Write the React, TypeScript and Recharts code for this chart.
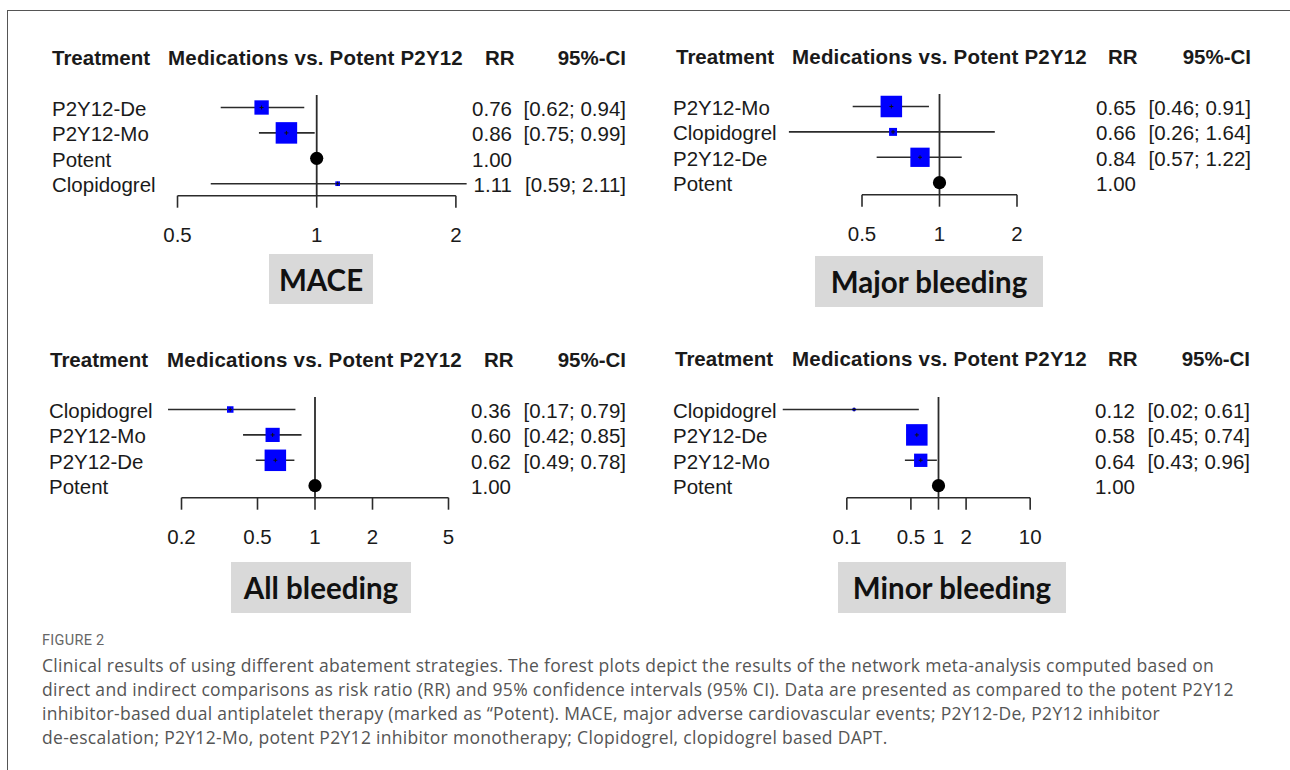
import React from 'react';
import { ScatterChart, Scatter, XAxis, YAxis, ErrorBar, ReferenceLine } from 'recharts';

// MACE
const maceNames = ['P2Y12-De', 'P2Y12-Mo', 'Potent', 'Clopidogrel'];
const maceRR = [0.76, 0.86, 1.0, 1.11];
const maceLow = [0.62, 0.75, null, 0.59];
const maceHigh = [0.94, 0.99, null, 2.11];
const maceTicks = [0.5, 1, 2];

// Major bleeding
const majorNames = ['P2Y12-Mo', 'Clopidogrel', 'P2Y12-De', 'Potent'];
const majorRR = [0.65, 0.66, 0.84, 1.0];
const majorLow = [0.46, 0.26, 0.57, null];
const majorHigh = [0.91, 1.64, 1.22, null];
const majorTicks = [0.5, 1, 2];

// All bleeding
const allNames = ['Clopidogrel', 'P2Y12-Mo', 'P2Y12-De', 'Potent'];
const allRR = [0.36, 0.6, 0.62, 1.0];
const allLow = [0.17, 0.42, 0.49, null];
const allHigh = [0.79, 0.85, 0.78, null];
const allTicks = [0.2, 0.5, 1, 2, 5];

// Minor bleeding
const minorNames = ['Clopidogrel', 'P2Y12-De', 'P2Y12-Mo', 'Potent'];
const minorRR = [0.12, 0.58, 0.64, 1.0];
const minorLow = [0.02, 0.45, 0.43, null];
const minorHigh = [0.61, 0.74, 0.96, null];
const minorTicks = [0.1, 0.5, 1, 2, 10];

const headerCols = ['Treatment', 'Medications vs. Potent P2Y12', 'RR', '95%-CI'];

const captionTitle = 'FIGURE 2';
const captionLines = [
  'Clinical results of using different abatement strategies. The forest plots depict the results of the network meta-analysis computed based on',
  'direct and indirect comparisons as risk ratio (RR) and 95% confidence intervals (95% CI). Data are presented as compared to the potent P2Y12',
  'inhibitor-based dual antiplatelet therapy (marked as \u201cPotent). MACE, major adverse cardiovascular events; P2Y12-De, P2Y12 inhibitor',
  'de-escalation; P2Y12-Mo, potent P2Y12 inhibitor monotherapy; Clopidogrel, clopidogrel based DAPT.',
];

const ARIAL = '"Liberation Sans", Arial, sans-serif';
const INK = '#1a1a1a';
const LINE = '#2b2b2b';
const ROW_GAP = 25.4;
const Y_MIN = -12.5 / ROW_GAP;
const Y_MAX = 3 + 12 / ROW_GAP;
const PLOT_H = ROW_GAP * (Y_MAX - Y_MIN);
const TOP_PAD = 15;
const X_AXIS_H = 62;
const CHART_W = 640;
const MAX_BOX = 21.5;

const panels = [
  {
    title: 'MACE', names: maceNames, rr: maceRR, lo: maceLow, hi: maceHigh, ticks: maceTicks,
    domain: [0.5, 2.15], onePx: 316.7, perDouble: 139.2, chartX: 0, rowTop: 107.5,
    labelX: 52, rrEnd: 512, ciEnd: 626, headY: 57.5, headX: [52, 168, 485],
    box: { x: 269, y: 254, w: 104, h: 50 },
  },
  {
    title: 'Major bleeding', names: majorNames, rr: majorRR, lo: majorLow, hi: majorHigh, ticks: majorTicks,
    domain: [0.26, 2.05], onePx: 939.5, perDouble: 77.5, chartX: 640, rowTop: 106.5,
    labelX: 673, rrEnd: 1136, ciEnd: 1251, headY: 56.5, headX: [676, 792, 1108],
    box: { x: 815, y: 256, w: 228, h: 51 },
  },
  {
    title: 'All bleeding', names: allNames, rr: allRR, lo: allLow, hi: allHigh, ticks: allTicks,
    domain: [0.17, 5.1], onePx: 315, perDouble: 57.5, chartX: 0, rowTop: 409,
    labelX: 49, rrEnd: 511, ciEnd: 626, headY: 359.5, headX: [50, 167, 484],
    box: { x: 231, y: 562, w: 180, h: 51 },
  },
  {
    title: 'Minor bleeding', names: minorNames, rr: minorRR, lo: minorLow, hi: minorHigh, ticks: minorTicks,
    domain: [0.02, 10.5], onePx: 938.5, perDouble: 27.6, chartX: 640, rowTop: 409,
    labelX: 673, rrEnd: 1135, ciEnd: 1250, headY: 358.7, headX: [675, 792, 1108],
    box: { x: 838, y: 562, w: 228, h: 51 },
  },
];

const buildRows = (p: any) => {
  const prec = p.rr.map((_: number, i: number) =>
    p.lo[i] == null ? 0 : 3.92 / Math.log(p.hi[i] / p.lo[i]));
  const maxPrec = Math.max(...prec);
  return p.rr.map((v: number, i: number) => ({
    x: v,
    y: i,
    ref: p.lo[i] == null,
    err: p.lo[i] == null ? [0, 0] : [v - p.lo[i], p.hi[i] - v],
    box: prec[i] ? (MAX_BOX * prec[i]) / maxPrec : 0,
  }));
};

const BoxShape = (props: any) => {
  const { cx, cy, payload } = props;
  if (payload.ref) return <circle cx={cx} cy={cy} r={6.6} fill="#000" />;
  const s = payload.box;
  return (
    <g>
      <rect x={cx - s / 2} y={cy - s / 2} width={s} height={s} fill="#0000ff" />
      <path d={`M${cx - 2},${cy}H${cx + 2}M${cx},${cy - 2}V${cy + 2}`} stroke="#111" strokeWidth={1} />
    </g>
  );
};

const fmt = (v: number) => v.toFixed(2);

const ForestPanel = ({ p }: { p: any }) => {
  const rows = buildRows(p);
  const plotLeft = p.onePx + p.perDouble * Math.log2(p.domain[0]);
  const plotRight = p.onePx + p.perDouble * Math.log2(p.domain[1]);
  const leftW = plotLeft - p.chartX;
  const rightW = p.chartX + CHART_W - plotRight;
  const chartY = p.rowTop - 12.5 - TOP_PAD;
  const chartH = TOP_PAD + PLOT_H + X_AXIS_H;
  const textStyle = { fontFamily: ARIAL, fontSize: 20.5, fill: INK };

  const nameTick = (t: any) => (
    <text x={p.labelX - p.chartX} y={t.y} dy={8.5} textAnchor="start" {...textStyle}>
      {p.names[t.payload.value]}
    </text>
  );
  const statTick = (t: any) => {
    const i = t.payload.value;
    return (
      <g>
        <text x={p.rrEnd - p.chartX} y={t.y} dy={8.5} textAnchor="end" {...textStyle}>{fmt(p.rr[i])}</text>
        {p.lo[i] != null && (
          <text x={p.ciEnd - p.chartX} y={t.y} dy={8.5} textAnchor="end" {...textStyle}>
            {`[${fmt(p.lo[i])}; ${fmt(p.hi[i])}]`}
          </text>
        )}
      </g>
    );
  };

  const headStyle: React.CSSProperties = {
    position: 'absolute', top: p.headY - 13, height: 26, lineHeight: '26px',
    fontFamily: ARIAL, fontWeight: 700, fontSize: 20.5, color: INK, whiteSpace: 'nowrap',
  };

  return (
    <>
      <div style={{ ...headStyle, left: p.headX[0] }}>{headerCols[0]}</div>
      <div style={{ ...headStyle, left: p.headX[1], letterSpacing: 0.2 }}>{headerCols[1]}</div>
      <div style={{ ...headStyle, left: p.headX[2] }}>{headerCols[2]}</div>
      <div style={{ ...headStyle, left: p.ciEnd - 200, width: 200, textAlign: 'right' }}>{headerCols[3]}</div>
      <div style={{ position: 'absolute', left: p.chartX, top: chartY }}>
        <ScatterChart width={CHART_W} height={chartH} margin={{ top: TOP_PAD, right: 0, bottom: 0, left: 0 }}>
          <XAxis
            type="number" dataKey="x" scale="log" domain={p.domain} allowDataOverflow
            ticks={p.ticks} interval={0} axisLine={false} tickSize={12} tickMargin={20}
            tickLine={{ stroke: LINE, strokeWidth: 1.6 }} height={X_AXIS_H}
            tick={{ fontFamily: ARIAL, fontSize: 20.5, fill: INK }} tickFormatter={(v: number) => String(v)}
          />
          <YAxis
            yAxisId="left" type="number" dataKey="y" domain={[Y_MIN, Y_MAX]} reversed allowDataOverflow
            ticks={[0, 1, 2, 3]} interval={0} width={leftW} axisLine={false} tickLine={false} tick={nameTick}
          />
          <YAxis
            yAxisId="right" orientation="right" type="number" dataKey="y" domain={[Y_MIN, Y_MAX]} reversed allowDataOverflow
            ticks={[0, 1, 2, 3]} interval={0} width={rightW} axisLine={false} tickLine={false} tick={statTick}
          />
          <ReferenceLine yAxisId="left" x={1} stroke={LINE} strokeWidth={1.8} ifOverflow="visible" />
          <ReferenceLine
            yAxisId="left" ifOverflow="visible" stroke={LINE} strokeWidth={1.6}
            segment={[{ x: p.ticks[0], y: Y_MAX }, { x: p.ticks[p.ticks.length - 1], y: Y_MAX }]}
          />
          <Scatter data={rows} yAxisId="right" shape={() => <g />} isAnimationActive={false} />
          <Scatter data={rows} yAxisId="left" shape={BoxShape} isAnimationActive={false}>
            <ErrorBar dataKey="err" direction="x" width={0} stroke={LINE} strokeWidth={1.6} />
          </Scatter>
        </ScatterChart>
      </div>
      <div
        style={{
          position: 'absolute', left: p.box.x, top: p.box.y, width: p.box.w, height: p.box.h,
          background: '#d9d9d9', display: 'flex', alignItems: 'center', justifyContent: 'center',
          fontFamily: 'Lato, "Open Sans", sans-serif', fontWeight: 700, fontSize: 29.5, color: '#111',
        }}
      >
        {p.title}
      </div>
    </>
  );
};

export default function App() {
  return (
    <div style={{ position: 'absolute', left: 0, top: 0, width: 1290, height: 770, background: '#fff', overflow: 'hidden' }}>
      <div style={{ position: 'absolute', left: 7, top: 10, width: 1300, height: 780, borderTop: '1.5px solid #555', borderLeft: '1.5px solid #555' }} />
      {panels.map((p) => <ForestPanel key={p.title} p={p} />)}
      <div style={{ position: 'absolute', left: 42, top: 632, fontFamily: 'Roboto, sans-serif', fontSize: 14.5, color: '#666', letterSpacing: 0.3 }}>
        {captionTitle}
      </div>
      {captionLines.map((line, i) => (
        <div
          key={i}
          style={{
            position: 'absolute', left: 42, top: 654 + i * 24, whiteSpace: 'nowrap',
            fontFamily: '"Open Sans", sans-serif', fontSize: 17.5, color: '#555', lineHeight: '22px',
            letterSpacing: 0.3,
          }}
        >
          {line}
        </div>
      ))}
    </div>
  );
}
